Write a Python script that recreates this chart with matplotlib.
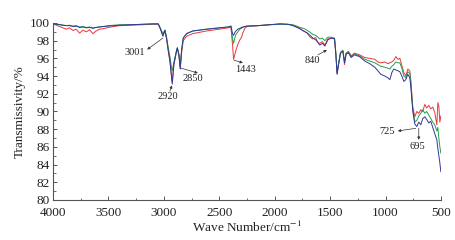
import matplotlib
matplotlib.use("Agg")
import matplotlib.pyplot as plt
from matplotlib.ticker import MultipleLocator

plt.rcParams['font.family'] = ['Liberation Serif', 'DejaVu Serif']
plt.rcParams['mathtext.fontset'] = 'stix'

# Wavenumber grid (cm^-1) shared by the three spectra
wavenumber = [
    4000, 3960, 3920, 3880, 3850, 3820, 3790, 3760, 3730, 3700,
    3670, 3640, 3610, 3580, 3550, 3500, 3450, 3400, 3300, 3200,
    3100, 3050, 3030, 3008, 2990, 2975, 2960, 2945, 2930, 2924,
    2909, 2885, 2878, 2864, 2852, 2840, 2825, 2795, 2738, 2614,
    2500, 2420, 2395, 2380, 2371, 2360, 2350, 2332, 2314, 2299,
    2287, 2269, 2250, 2150, 2050, 1950, 1880, 1836, 1800, 1773,
    1740, 1710, 1680, 1656, 1630, 1610, 1593, 1570, 1547, 1520,
    1490, 1460, 1448, 1437, 1420, 1406, 1385, 1370, 1355, 1334,
    1310, 1280, 1235, 1187, 1142, 1097, 1069, 1042, 1006, 979,
    961, 943, 925, 907, 889, 871, 853, 835, 817, 799,
    781, 772, 754, 736, 718, 700, 682, 664, 646, 628,
    610, 592, 574, 556, 537, 528, 519, 510, 501,
]

red_T = [
    99.9, 99.7, 99.5, 99.3, 99.45, 99.15, 99.3, 98.85, 99.2, 99.0,
    99.25, 98.8, 99.1, 99.3, 99.35, 99.5, 99.6, 99.7, 99.75, 99.8,
    99.85, 99.85, 99.3, 98.6, 99.1, 98.2, 96.8, 95.6, 93.9, 93.3,
    95.3, 96.8, 97.1, 96.3, 94.9, 96.6, 98.0, 98.5, 98.8, 99.1,
    99.3, 99.45, 99.55, 97.5, 95.9, 96.4, 96.9, 97.6, 98.1, 98.4,
    98.9, 99.4, 99.6, 99.7, 99.8, 99.9, 99.85, 99.75, 99.55, 99.4,
    99.1, 98.9, 98.4, 98.2, 98.35, 97.8, 97.7, 97.9, 97.5, 98.2,
    98.3, 98.2, 96.5, 94.3, 95.6, 96.6, 96.9, 95.3, 96.6, 96.8,
    96.3, 96.6, 96.4, 96.1, 96.0, 95.9, 95.6, 95.5, 95.6, 95.4,
    95.5, 95.6, 95.8, 96.2, 95.9, 96.0, 95.2, 94.4, 94.0, 94.8,
    94.6, 93.5, 90.5, 89.4, 90.0, 89.8, 90.2, 90.0, 90.8, 90.4,
    90.7, 90.3, 90.5, 89.9, 88.5, 91.0, 90.6, 88.8, 89.5,
]

green_T = [
    99.9, 99.85, 99.8, 99.7, 99.75, 99.65, 99.7, 99.55, 99.6, 99.5,
    99.55, 99.45, 99.5, 99.55, 99.6, 99.7, 99.75, 99.8, 99.8, 99.85,
    99.9, 99.9, 99.4, 98.8, 99.2, 98.4, 97.2, 96.2, 94.9, 94.6,
    95.6, 96.9, 97.2, 96.5, 95.1, 96.9, 98.3, 98.8, 99.1, 99.3,
    99.45, 99.55, 99.65, 98.2, 97.7, 98.3, 98.7, 99.0, 99.3, 99.4,
    99.5, 99.6, 99.65, 99.7, 99.8, 99.85, 99.85, 99.8, 99.65, 99.5,
    99.4, 99.2, 98.95, 98.7, 98.6, 98.4, 98.2, 98.3, 98.0, 98.4,
    98.4, 98.3, 96.6, 94.4, 95.7, 96.7, 96.9, 95.7, 96.6, 96.7,
    96.2, 96.5, 96.3, 95.9, 95.7, 95.5, 95.3, 95.1, 95.0, 94.9,
    94.8, 95.1, 95.3, 95.6, 95.5, 95.5, 94.9, 94.0, 93.8, 94.5,
    94.3, 93.3, 90.3, 88.8, 89.0, 89.5, 89.8, 90.2, 89.8, 90.0,
    89.6, 89.2, 88.8, 88.5, 87.8, 88.2, 87.0, 86.0, 85.3,
]

blue_T = [
    99.9, 99.85, 99.75, 99.7, 99.7, 99.6, 99.65, 99.5, 99.55, 99.45,
    99.5, 99.4, 99.5, 99.55, 99.6, 99.65, 99.7, 99.75, 99.8, 99.85,
    99.9, 99.9, 99.3, 98.5, 99.2, 98.2, 96.9, 95.8, 93.8, 93.1,
    95.4, 96.9, 97.2, 96.4, 94.8, 96.9, 98.3, 98.8, 99.1, 99.3,
    99.45, 99.55, 99.65, 98.8, 98.6, 98.9, 99.1, 99.3, 99.4, 99.5,
    99.55, 99.6, 99.65, 99.7, 99.8, 99.9, 99.85, 99.7, 99.5, 99.35,
    99.1, 98.9, 98.6, 98.3, 98.1, 97.8, 97.5, 97.7, 97.4, 98.1,
    98.3, 98.2, 96.4, 94.2, 95.6, 96.6, 96.8, 95.5, 96.5, 96.6,
    96.1, 96.4, 96.2, 95.7, 95.4, 95.0, 94.6, 94.2, 94.0, 93.8,
    93.6, 94.4, 94.8, 94.7, 94.6, 94.5, 94.0, 93.4, 93.6, 94.2,
    93.8, 92.8, 90.0, 88.6, 88.3, 88.8, 88.5, 89.2, 89.4, 89.1,
    88.7, 88.9, 88.2, 87.5, 86.8, 85.8, 85.0, 84.2, 83.2,
]

# Peak annotations: label, text position, arrow tail, arrow head
annotations = [
    ("3001", (3261, 96.7), (3008, 98.3), (3150, 97.0)),
    ("2920", (2968, 91.7), (2945, 92.3), (2927, 92.95)),
    ("2850", (2742, 93.7), (2846, 94.9), (2693, 94.35)),
    ("1443", (2264, 94.8), (2368, 95.8), (2287, 95.5)),
    ("840", (1656, 95.8), (1610, 96.4), (1529, 96.95)),
    ("725", (984, 87.7), (727, 88.1), (889, 87.8)),
    ("695", (713, 86.05), (700, 88.1), (700, 86.8)),
]

fig = plt.figure(figsize=(4.56, 2.40), dpi=100)
ax = fig.add_axes([0.1162, 0.1667, 0.8508, 0.7375])

ax.plot(wavenumber, red_T, color='#e8383d', lw=0.7)
ax.plot(wavenumber, green_T, color='#22a04a', lw=0.7)
ax.plot(wavenumber, blue_T, color='#33379a', lw=0.7)

for label, tpos, tail, head in annotations:
    ax.annotate('', xy=head, xytext=tail,
                arrowprops=dict(arrowstyle='-|>', color='#333333', lw=0.5,
                                mutation_scale=4, shrinkA=0, shrinkB=0))
    ax.text(tpos[0], tpos[1], label, ha='center', va='center',
            fontsize=7.5, color='#222222')

ax.set_xlim(4000, 500)
ax.set_ylim(80, 100)
ax.xaxis.set_major_locator(MultipleLocator(500))
ax.xaxis.set_minor_locator(MultipleLocator(250))
ax.yaxis.set_major_locator(MultipleLocator(2))
ax.yaxis.set_minor_locator(MultipleLocator(1))

for s in ('top', 'right'):
    ax.spines[s].set_visible(False)
for s in ('left', 'bottom'):
    ax.spines[s].set_color('#555555')
    ax.spines[s].set_linewidth(0.8)

ax.tick_params(which='both', direction='in', colors='#555555', labelcolor='#222222')
ax.tick_params(which='major', length=3, width=0.7, labelsize=9.5)
ax.tick_params(axis='x', which='major', pad=5)
ax.tick_params(axis='y', which='major', pad=2.5)
ax.tick_params(which='minor', length=1.8, width=0.6)

ax.set_xlabel('Wave Number/cm$^{-1}$', fontsize=9.5, color='#222222', labelpad=1)
ax.set_ylabel('Transmissivity/%', fontsize=9.5, color='#222222', labelpad=3)

fig.savefig('out.png', dpi=100)
